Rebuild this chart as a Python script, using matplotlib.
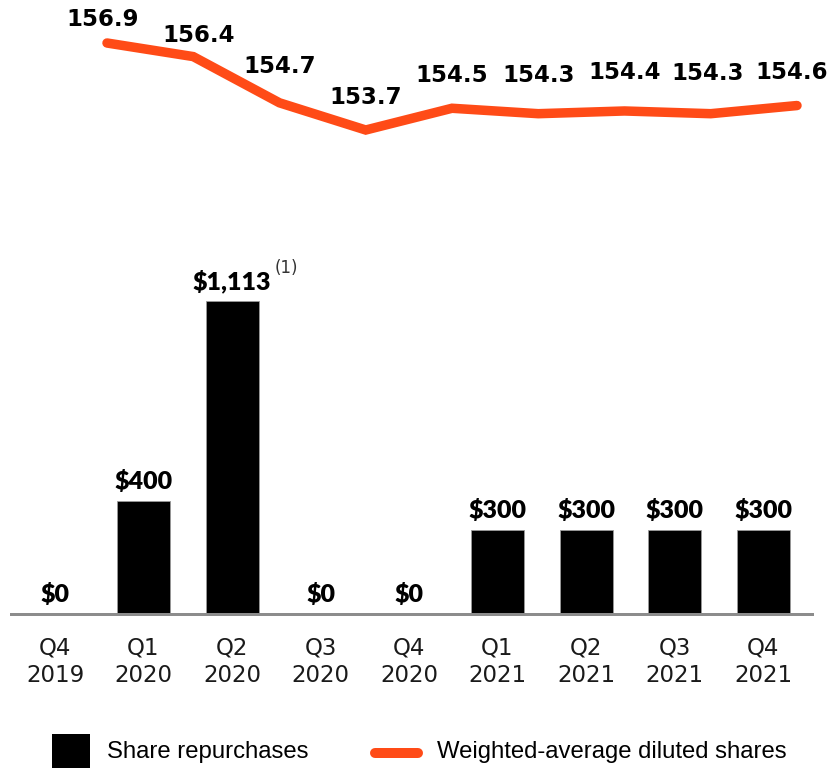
import matplotlib
matplotlib.use("Agg")
import matplotlib.pyplot as plt
from matplotlib.patches import Rectangle
from matplotlib.lines import Line2D

# ---- data ----
quarters = ["Q4", "Q1", "Q2", "Q3", "Q4", "Q1", "Q2", "Q3", "Q4"]
years = ["2019", "2020", "2020", "2020", "2020", "2021", "2021", "2021", "2021"]
repurchases = [0, 400, 1113, 0, 0, 300, 300, 300, 300]
repurchase_labels = ["$0", "$400", "$1,113", "$0", "$0", "$300", "$300", "$300", "$300"]
diluted_shares = [156.9, 156.4, 154.7, 153.7, 154.5, 154.3, 154.4, 154.3, 154.6]
share_labels = ["156.9", "156.4", "154.7", "153.7", "154.5", "154.3", "154.4", "154.3", "154.6"]
footnote_mark = "(1)"
legend_labels = ["Share repurchases", "Weighted-average diluted shares"]

# ---- style ----
W, H, DPI = 832, 768, 100
ORANGE = "#FF4B17"
GRAY = "#8C8C8C"
PX = 72.0 / DPI  # points per pixel
share_label_offsets_px = [(-4, 23), (5, 21), (0, 36), (0, 33), (0, 33),
                          (0, 38), (0, 38), (-3, 40), (-5, 33)]

fig = plt.figure(figsize=(W / DPI, H / DPI), dpi=DPI)
fig.patch.set_facecolor("white")

# ---- bar axes ----
base_px = 614
ax = fig.add_axes([0, 1 - base_px / H, 1, base_px / H])
ax.set_facecolor("none")
c0, step = 55.0, 88.5
ax.set_xlim(-c0 / step, (W - c0) / step)
ax.set_ylim(0, base_px / 0.2815)
x = list(range(len(repurchases)))
ax.bar(x, repurchases, width=53 / step, color="black", edgecolor="#9a9a9a",
       linewidth=0.6, zorder=2)
ax.axhline(0, xmin=11 / W, xmax=812 / W, color=GRAY, lw=3 * PX, zorder=3,
           clip_on=False)
for xi, v, lab in zip(x, repurchases, repurchase_labels):
    ax.annotate(lab, (xi, v), xytext=(0, 19.5 * PX), textcoords="offset points",
                ha="center", va="center", fontsize=18, fontweight="heavy",
                family=["Lato", "DejaVu Sans"], color="black")
i_max = repurchases.index(max(repurchases))
ax.annotate(footnote_mark, (i_max, repurchases[i_max]), xytext=(54 * PX, 33 * PX),
            textcoords="offset points", ha="center", va="center", fontsize=12,
            family=["DejaVu Sans"], color="#333333")
ax.set_xticks(x)
ax.set_xticklabels([f"{q}\n{y}" for q, y in zip(quarters, years)],
                   fontsize=16.5, family=["DejaVu Sans"], color="#1a1a1a",
                   linespacing=1.25)
ax.tick_params(axis="x", length=0, pad=16.5)
ax.set_yticks([])
for s in ax.spines.values():
    s.set_visible(False)

# ---- line axes ----
ax2 = fig.add_axes([0, 0, 1, 1])
ax2.set_facecolor("none")
lx0, lstep = 107.0, 86.25
ax2.set_xlim(-lx0 / lstep, (W - lx0) / lstep)
y0px, yscale = 43.0, 27.19
top_v = diluted_shares[0] + y0px / yscale
bot_v = diluted_shares[0] - (H - y0px) / yscale
ax2.set_ylim(bot_v, top_v)
ax2.plot(x, diluted_shares, color=ORANGE, lw=9.5 * PX, solid_capstyle="round",
         solid_joinstyle="miter", zorder=2)
for xi, v, lab, (dx, dy) in zip(x, diluted_shares, share_labels, share_label_offsets_px):
    ax2.annotate(lab, (xi, v), xytext=(dx * PX, dy * PX), textcoords="offset points",
                 ha="center", va="center", fontsize=16.5, fontweight="bold",
                 family=["DejaVu Sans"], color="black")
ax2.axis("off")

# ---- legend ----
fig.patches.append(Rectangle((52 / W, 0), 38 / W, (768 - 734) / H,
                             transform=fig.transFigure, facecolor="black",
                             edgecolor="none"))
fig.lines.append(Line2D([375 / W, 418 / W], [1 - 753 / H, 1 - 753 / H],
                        transform=fig.transFigure, color=ORANGE, lw=10 * PX,
                        solid_capstyle="round"))
fig.text(107 / W, 1 - 752 / H, legend_labels[0], ha="left", va="center",
         fontsize=17.2, family=["Liberation Sans", "DejaVu Sans"], color="black")
fig.text(437 / W, 1 - 752 / H, legend_labels[1], ha="left", va="center",
         fontsize=17.2, family=["Liberation Sans", "DejaVu Sans"], color="black")

fig.savefig("out.png", dpi=DPI, facecolor="white")
